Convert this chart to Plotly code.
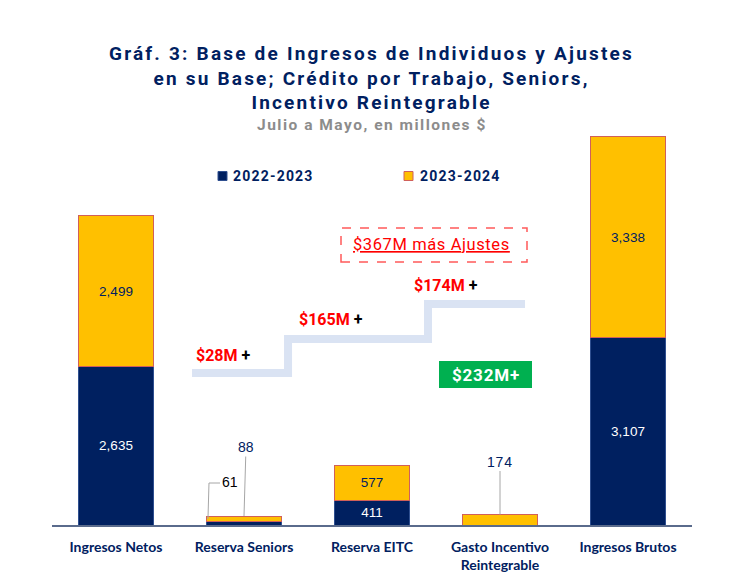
import plotly.graph_objects as go

# ---------------- data ----------------
categories = ["Ingresos Netos", "Reserva Seniors", "Reserva EITC",
              "Gasto Incentivo<br>Reintegrable", "Ingresos Brutos"]
series_names = ["2022-2023", "2023-2024"]
values_2022_2023 = [2635, 61, 411, 0, 3107]
values_2023_2024 = [2499, 88, 577, 174, 3338]

step_labels = ["$28M", "$165M", "$174M"]
total_label = "$367M más Ajustes"
green_label = "$232M+"

title_lines = ["Gráf. 3: Base de Ingresos de Individuos y Ajustes",
               "en su Base; Crédito por Trabajo, Seniors,",
               "Incentivo Reintegrable"]
subtitle = "Julio a Mayo, en millones $"

NAVY = "#002060"
GOLD = "#FFC000"

# --------- layout geometry ---------
W, H = 732, 579
OFF = 8                      # page offset of the figure inside the browser
PLOT_X0, PLOT_X1 = 52, 692   # page pixels of the plot area
PLOT_Y0, PLOT_Y1 = 130, 525
L = PLOT_X0 - OFF
T = PLOT_Y0 - OFF
PW = PLOT_X1 - PLOT_X0
PH = PLOT_Y1 - PLOT_Y0
R = W - L - PW
B = H - T - PH


def px(x):
    return (x - PLOT_X0) / PW


def py(y):
    return (PLOT_Y1 - y) / PH


def spaced(s, ls):
    return f"<span style='letter-spacing:{ls}px'>{s}</span>"


idx = list(range(len(categories)))


def inside_text(vals):
    return [f"{v:,}" if v >= 300 else "" for v in vals]


fig = go.Figure()
fig.add_trace(go.Bar(
    x=idx, y=values_2022_2023, name=series_names[0], width=0.58,
    marker=dict(color=NAVY, line=dict(color="#2f4f8f", width=1)),
    text=inside_text(values_2022_2023), textposition="inside",
    insidetextanchor="middle",
    textfont=dict(family="Liberation Sans", size=13.5, color="white"),
    hoverinfo="skip", showlegend=False,
))
fig.add_trace(go.Bar(
    x=idx, y=values_2023_2024, name=series_names[1], width=0.58,
    marker=dict(color=GOLD, line=dict(color="#d0605a", width=1)),
    text=inside_text(values_2023_2024), textposition="inside",
    insidetextanchor="middle",
    textfont=dict(family="Liberation Sans", size=13.5, color=NAVY),
    hoverinfo="skip", showlegend=False,
))

shapes = []
annotations = []

# title + subtitle
annotations.append(dict(
    text="<b>" + "<br>".join(spaced(t, 2.2) for t in title_lines) + "</b>",
    xref="paper", yref="paper", x=px(371), y=py(78),
    xanchor="center", yanchor="middle", showarrow=False,
    font=dict(family="Roboto", size=19, color=NAVY),
))
annotations.append(dict(
    text="<b>" + spaced(subtitle, 1.5) + "</b>",
    xref="paper", yref="paper", x=px(372), y=py(125),
    xanchor="center", yanchor="middle", showarrow=False,
    font=dict(family="Roboto", size=15.5, color="#8c8c8c"),
))

# manual legend
leg_items = [(series_names[0], NAVY, "#2f4f8f", 218, 231),
             (series_names[1], GOLD, "#d0605a", 404, 418)]
for name, fc, lc, sx, tx in leg_items:
    shapes.append(dict(type="rect", xref="paper", yref="paper",
                       x0=px(sx), x1=px(sx + 9), y0=py(180.5), y1=py(171.5),
                       fillcolor=fc, line=dict(color=lc, width=1)))
    annotations.append(dict(
        text="<b>" + spaced(name, 1.2) + "</b>", xref="paper", yref="paper",
        x=px(tx), y=py(176), xanchor="left", yanchor="middle", showarrow=False,
        font=dict(family="Roboto", size=14, color=NAVY),
    ))

# step line
pts = [(192, 373), (288, 373), (288, 339), (428, 339), (428, 304), (525, 304)]
path = "M " + " L ".join(f"{px(a):.4f},{py(b):.4f}" for a, b in pts)
shapes.append(dict(type="path", path=path, xref="paper", yref="paper",
                   line=dict(color="#dae3f3", width=8), layer="below"))

# step labels
for lab, (cx, cy) in zip(step_labels, [(223, 355), (331, 319), (446, 285)]):
    annotations.append(dict(
        text=f"<b><span style='color:#ff0000'>{lab}</span> <span style='color:#000000'>+</span></b>",
        xref="paper", yref="paper", x=px(cx), y=py(cy),
        xanchor="center", yanchor="middle", showarrow=False,
        font=dict(family="Roboto", size=16),
    ))

# dashed box
shapes.append(dict(type="rect", xref="paper", yref="paper",
                   x0=px(341), x1=px(527), y0=py(262), y1=py(228),
                   line=dict(color="#ff5a5a", width=1.5, dash="dash")))
annotations.append(dict(
    text=f"<u>{spaced(total_label, 0.6)}</u>", xref="paper", yref="paper",
    x=px(431), y=py(244), xanchor="center", yanchor="middle", showarrow=False,
    font=dict(family="Roboto", size=16.5, color="#ff0000"),
))

# green box
shapes.append(dict(type="rect", xref="paper", yref="paper",
                   x0=px(439), x1=px(532), y0=py(388), y1=py(361),
                   fillcolor="#00b050", line=dict(width=0)))
annotations.append(dict(
    text="<b>" + spaced(green_label, 0.8) + "</b>", xref="paper", yref="paper",
    x=px(486), y=py(375), xanchor="center", yanchor="middle", showarrow=False,
    font=dict(family="Roboto", size=17, color="white"),
))

# small-bar labels with leader lines
LEAD = "#a6a6a6"
elbow = [(208, 519), (209, 483), (220, 483)]
shapes.append(dict(type="path", xref="paper", yref="paper",
                   path="M " + " L ".join(f"{px(a):.4f},{py(b):.4f}" for a, b in elbow),
                   line=dict(color=LEAD, width=1)))
annotations.append(dict(
    text=f"{values_2022_2023[1]:,}", xref="paper", yref="paper",
    x=px(230), y=py(482), xanchor="center", yanchor="middle", showarrow=False,
    font=dict(family="Liberation Sans", size=14, color="#000000"),
))
annotations.append(dict(
    text=f"{values_2023_2024[1]:,}", x=1, y=values_2022_2023[1] + values_2023_2024[1],
    xref="x", yref="y", showarrow=True, arrowhead=0, arrowwidth=1,
    arrowcolor=LEAD, ax=2, ay=-69, standoff=0,
    font=dict(family="Liberation Sans", size=14, color=NAVY),
))
annotations.append(dict(
    text=spaced(f"{values_2023_2024[3]:,}", 0.8), x=3,
    y=values_2022_2023[3] + values_2023_2024[3],
    xref="x", yref="y", showarrow=True, arrowhead=0, arrowwidth=1,
    arrowcolor=LEAD, ax=0, ay=-53, standoff=0,
    font=dict(family="Liberation Sans", size=14, color=NAVY),
))

fig.update_layout(
    width=W, height=H,
    margin=dict(l=L, r=R, t=T, b=B),
    paper_bgcolor="white", plot_bgcolor="white",
    barmode="stack",
    showlegend=False,
    xaxis=dict(tickvals=idx, ticktext=[f"<b>{c}</b>" for c in categories],
               range=[-0.5, len(categories) - 0.5], showgrid=False,
               showline=True, linecolor="#5a6b8c", linewidth=1.5,
               ticks="", ticklabelstandoff=8, zeroline=False,
               tickfont=dict(family="Lato", size=14, color=NAVY)),
    yaxis=dict(range=[0, 6560], visible=False, showgrid=False),
    shapes=shapes, annotations=annotations,
)

fig.write_html("out.html")
